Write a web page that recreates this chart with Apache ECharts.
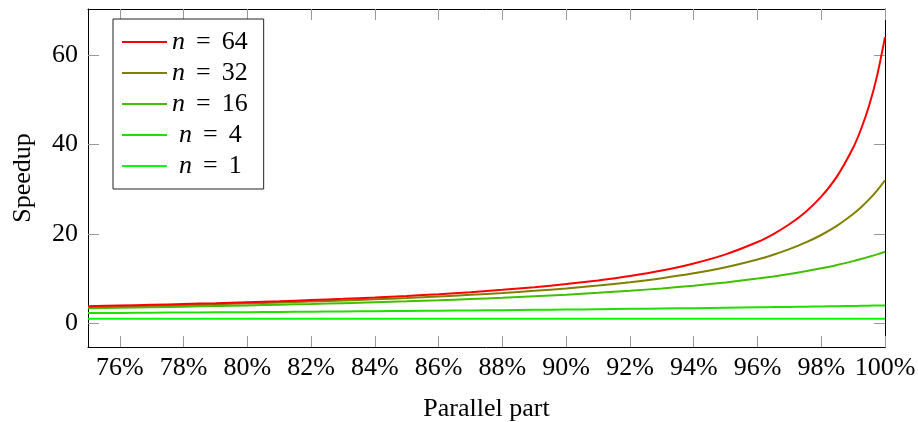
<!DOCTYPE html>
<html>
<head>
<meta charset="utf-8">
<script src="https://cdn.jsdelivr.net/npm/echarts@6/dist/echarts.min.js"></script>
<style>
  html, body { margin: 0; padding: 0; background: #fff; }
  #chart { width: 918px; height: 422px; }
</style>
</head>
<body>
<div id="chart"></div>
<script>
// parallel part in percent
var parallelPart = [75, 76, 77, 78, 79, 80, 81, 82, 83, 84, 85, 86, 87, 88, 89, 90,
  91, 92, 93, 94, 95, 96, 96.5, 97, 97.5, 98, 98.5, 99, 99.25, 99.5, 99.75, 100];

var speedup64 = [3.82, 3.97, 4.13, 4.31, 4.50, 4.71, 4.93, 5.19, 5.47, 5.78, 6.12, 6.52, 6.96, 7.48, 8.07, 8.77,
  9.60, 10.60, 11.83, 13.39, 15.42, 18.18, 19.97, 22.15, 24.85, 28.32, 32.91, 39.26, 43.46, 48.67, 55.29, 64];
var speedup32 = [3.66, 3.79, 3.94, 4.09, 4.26, 4.44, 4.64, 4.86, 5.10, 5.37, 5.66, 5.99, 6.36, 6.78, 7.26, 7.81,
  8.44, 9.20, 10.10, 11.19, 12.55, 14.29, 15.35, 16.58, 18.03, 19.75, 21.84, 24.43, 25.96, 27.71, 29.70, 32];
var speedup16 = [3.37, 3.48, 3.60, 3.72, 3.86, 4.00, 4.16, 4.32, 4.51, 4.71, 4.92, 5.16, 5.42, 5.71, 6.04, 6.40,
  6.81, 7.27, 7.81, 8.42, 9.14, 10.00, 10.49, 11.03, 11.64, 12.31, 13.06, 13.91, 14.38, 14.88, 15.42, 16];
var speedup4 = [2.29, 2.33, 2.37, 2.41, 2.45, 2.50, 2.55, 2.60, 2.65, 2.70, 2.76, 2.82, 2.88, 2.94, 3.01, 3.08,
  3.15, 3.23, 3.31, 3.39, 3.48, 3.57, 3.62, 3.67, 3.72, 3.77, 3.83, 3.88, 3.91, 3.94, 3.97, 4];
var speedup1 = [1, 1, 1, 1, 1, 1, 1, 1, 1, 1, 1, 1, 1, 1, 1, 1,
  1, 1, 1, 1, 1, 1, 1, 1, 1, 1, 1, 1, 1, 1, 1, 1];

var xTicks = [76, 78, 80, 82, 84, 86, 88, 90, 92, 94, 96, 98, 100];
var yTicks = [0, 20, 40, 60];

var seriesN = [64, 32, 16, 4, 1];
var seriesValues = [speedup64, speedup32, speedup16, speedup4, speedup1];
var seriesColors = ['#ff0000', '#808000', '#40c000', '#20e000', '#00ff00'];

var FONT = 'Liberation Serif';

function pairs(ys) {
  var out = [];
  for (var i = 0; i < parallelPart.length; i++) {
    out.push([parallelPart[i], ys[i]]);
  }
  return out;
}

var series = [];
for (var k = 0; k < seriesN.length; k++) {
  series.push({
    name: 'n = ' + seriesN[k],
    type: 'line',
    data: pairs(seriesValues[k]),
    smooth: 0.25,
    showSymbol: false,
    symbol: 'none',
    color: seriesColors[k],
    lineStyle: { width: 2, color: seriesColors[k] },
    z: 10 - k
  });
}

var tickStyle = { show: true, inside: true, length: 11, lineStyle: { color: '#999', width: 1 } };
var boxLine = { show: true, onZero: false, lineStyle: { color: '#000', width: 1 } };

var chart = echarts.init(document.getElementById('chart'));
chart.setOption({
  animation: false,
  backgroundColor: '#fff',
  textStyle: { fontFamily: FONT },
  grid: {
    left: 88, right: 33, top: 9, bottom: 75,
    show: false,
    outerBoundsMode: 'none'
  },
  legend: {
    orient: 'vertical',
    left: 113,
    top: 19,
    padding: [10, 16, 10, 9],
    itemWidth: 45,
    itemHeight: 2,
    itemGap: 5,
    icon: 'rect',
    backgroundColor: '#fff',
    borderColor: '#222',
    borderWidth: 1,
    borderRadius: 0,
    formatter: function (name) {
      var num = name.replace('n = ', '');
      var pad = num.length < 2 ? '{p|}' : '';
      return pad + '{i|n}{e|=}' + num;
    },
    textStyle: {
      fontFamily: FONT,
      fontSize: 26,
      color: '#000',
      lineHeight: 23,
      rich: {
        i: { fontFamily: FONT, fontSize: 26, fontStyle: 'italic', color: '#000', lineHeight: 23 },
        e: { fontFamily: FONT, fontSize: 26, color: '#000', lineHeight: 23, padding: [0, 11, 0, 11] },
        p: { width: 7 }
      }
    },
    data: series.map(function (s) { return s.name; })
  },
  xAxis: [{
    type: 'value',
    position: 'bottom',
    min: 75,
    max: 100,
    name: 'Parallel part',
    nameLocation: 'middle',
    nameGap: 49,
    nameTextStyle: { fontFamily: FONT, fontSize: 26, color: '#000' },
    axisLine: boxLine,
    axisTick: Object.assign({ customValues: xTicks }, tickStyle),
    axisLabel: {
      customValues: xTicks,
      formatter: '{value}%',
      margin: 8,
      fontFamily: FONT,
      fontSize: 26,
      color: '#000',
      hideOverlap: false
    },
    splitLine: { show: false }
  }, {
    type: 'value',
    position: 'top',
    min: 75,
    max: 100,
    axisLine: boxLine,
    axisTick: Object.assign({ customValues: xTicks }, tickStyle),
    axisLabel: { show: false },
    splitLine: { show: false }
  }],
  yAxis: [{
    type: 'value',
    position: 'left',
    min: -5.3,
    max: 70.3,
    name: 'Speedup',
    nameLocation: 'middle',
    nameGap: 52,
    nameTextStyle: { fontFamily: FONT, fontSize: 26, color: '#000' },
    axisLine: boxLine,
    axisTick: Object.assign({ customValues: yTicks }, tickStyle),
    axisLabel: {
      customValues: yTicks,
      margin: 10,
      fontFamily: FONT,
      fontSize: 26,
      color: '#000'
    },
    splitLine: { show: false }
  }, {
    type: 'value',
    position: 'right',
    min: -5.3,
    max: 70.3,
    axisLine: boxLine,
    axisTick: Object.assign({ customValues: yTicks }, tickStyle),
    axisLabel: { show: false },
    splitLine: { show: false }
  }],
  series: series
});
</script>
</body>
</html>
